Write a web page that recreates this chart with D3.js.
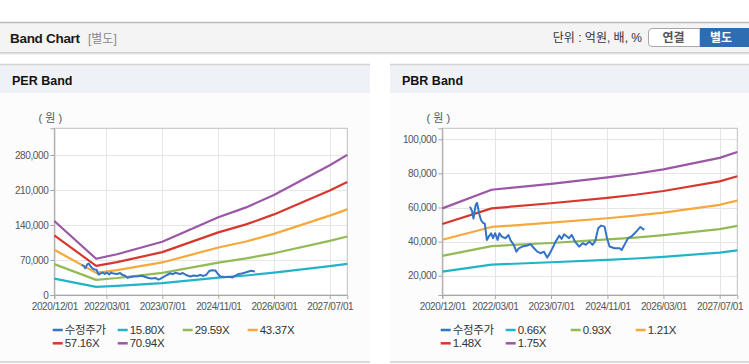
<!DOCTYPE html>
<html><head><meta charset="utf-8">
<script src="https://cdn.jsdelivr.net/npm/d3@7"></script>
<style>
body{margin:0;background:#fff;}
svg{display:block;font-family:"Liberation Sans",Arial,"Noto Sans CJK KR",sans-serif;}
</style>
</head><body>
<svg id="c" width="749" height="364"></svg>
<script>
// ---------- data ----------
const xTickLabels = ["2020/12/01","2022/03/01","2023/07/01","2024/11/01","2026/03/01","2027/07/01"];
const xDomain = ["2020-12-01","2027-12-01"];

const perYTicks = [0,70000,140000,210000,280000];
const pbrYTicks = [20000,40000,60000,80000,100000];

const perBandNames = ["15.80X","29.59X","43.37X","57.16X","70.94X"];
const pbrBandNames = ["0.66X","0.93X","1.21X","1.48X","1.75X"];
const priceName = "수정주가";

const perDates = ["2020-12-01","2021-12-01","2022-06-01","2023-07-01","2024-11-01","2025-07-01","2026-03-01","2027-07-01","2027-12-01"];
const per1580 = [32900,16100,18200,23700,34600,39000,44600,57800,62400];
const per2959 = [61700,30200,34000,44400,64800,73100,83400,108300,116900];
const per4337 = [90400,44200,49900,65100,95000,107100,122300,158700,171300];
const per5716 = [119200,58300,65700,85700,125200,141200,161200,209200,225800];
const per7094 = [147900,72400,81600,106400,155400,175200,200100,259600,280200];

const pbrDates = ["2020-12-01","2022-02-01","2023-07-01","2024-11-01","2025-07-01","2026-03-01","2027-07-01","2027-12-01"];
const pbr066 = [22400,26500,27900,29300,30100,31100,33600,34900];
const pbr093 = [31600,37400,39200,41300,42400,43800,47300,49200];
const pbr121 = [41100,48600,51100,53700,55200,57000,61600,64000];
const pbr148 = [50300,59500,62500,65700,67500,69700,75300,78300];
const pbr175 = [59500,70400,73900,77700,79800,82400,89100,92600];

const priceDates = ["2021-07-28","2021-08-16","2021-08-28","2021-09-16","2021-09-28","2021-10-16","2021-11-01","2021-11-19","2021-12-04","2021-12-22",
 "2022-01-07","2022-01-28","2022-02-13","2022-03-04","2022-03-25","2022-04-10","2022-05-01","2022-06-01","2022-06-28","2022-07-13",
 "2022-08-13","2022-09-04","2022-09-25","2022-10-25","2022-12-07","2023-01-04","2023-02-04","2023-03-04","2023-04-01","2023-05-01",
 "2023-05-28","2023-06-13","2023-07-13","2023-08-10","2023-09-10","2023-10-01","2023-10-22","2023-11-16","2023-12-04","2023-12-28",
 "2024-01-25","2024-03-01","2024-04-01","2024-04-28","2024-05-28","2024-06-25","2024-07-19","2024-08-13","2024-09-07","2024-10-07",
 "2024-10-28","2024-11-19","2025-01-01","2025-02-15","2025-03-04","2025-03-28","2025-04-28","2025-05-25","2025-06-25","2025-07-22",
 "2025-08-13","2025-09-16"];
const priceValues = [60500,58000,53500,61500,62800,56600,52700,51000,50500,41000,
 42900,44900,42000,44900,41000,44900,42900,42000,43900,41000,
 38000,34100,36100,37100,37700,38500,36100,34100,33200,34100,
 30600,32200,36100,40000,43500,41600,44300,43000,42000,43900,
 40000,37100,39100,38100,40000,38100,40500,47900,49400,48800,
 42000,37100,36100,36100,35100,38100,42000,42900,44900,46900,
 48600,46900];

const seriesColors = ["#3573c6","#21b4c8","#92bb55","#f7a83a","#d6382d","#9a57a6"];

// ---------- drawing ----------
const svg = d3.select("#c");
const parse = d3.utcParse("%Y-%m-%d");
const tickParse = d3.utcParse("%Y/%m/%d");

// top header bar
svg.append("rect").attr("x",0).attr("y",22).attr("width",749).attr("height",30).attr("fill","#f4f4f4");
svg.append("line").attr("x1",0).attr("x2",749).attr("y1",22.5).attr("y2",22.5).attr("stroke","#b8b8b8").attr("stroke-width",1.3);
[["#cfcfcf",52.5],["#e2e2e2",53.5],["#f0f0f0",54.5]].forEach(([c,y])=>{
  svg.append("line").attr("x1",0).attr("x2",749).attr("y1",y).attr("y2",y).attr("stroke",c);
});
svg.append("text").attr("x",10).attr("y",43).attr("font-size",13.5).attr("font-weight","bold").attr("fill","#1a1a1a").attr("letter-spacing","-0.3px").text("Band Chart");
svg.append("text").attr("x",88).attr("y",43).attr("font-size",12).attr("fill","#8a8a8a").text("[별도]");
svg.append("text").attr("x",642).attr("y",42).attr("font-size",12).attr("text-anchor","end").attr("fill","#333").text("단위 : 억원, 배, %");
svg.append("path").attr("d","M700,28.5 H652 Q648.5,28.5 648.5,32 V43 Q648.5,46.5 652,46.5 H700 Z")
  .attr("fill","#fff").attr("stroke","#a8a8a8");
svg.append("text").attr("x",673.5).attr("y",42).attr("font-size",12).attr("font-weight","bold").attr("text-anchor","middle").attr("fill","#555").text("연결");
svg.append("rect").attr("x",700).attr("y",28).attr("width",52).attr("height",19).attr("fill","#2f6db2");
svg.append("text").attr("x",721).attr("y",42).attr("font-size",12).attr("font-weight","bold").attr("text-anchor","middle").attr("fill","#fff").text("별도");

function drawPanel(cfg){
  const g = svg.append("g");
  g.append("rect").attr("x",cfg.px).attr("y",93).attr("width",cfg.pw).attr("height",268).attr("fill","#fcfcfc");
  g.append("rect").attr("x",cfg.px).attr("y",64).attr("width",cfg.pw).attr("height",29).attr("fill","#eef1f6");
  g.append("line").attr("x1",cfg.px).attr("x2",cfg.px+cfg.pw).attr("y1",64.5).attr("y2",64.5).attr("stroke","#d4d4d4").attr("stroke-width",1.3);
  g.append("line").attr("x1",cfg.px).attr("x2",cfg.px+cfg.pw).attr("y1",362).attr("y2",362).attr("stroke","#dadada").attr("stroke-width",2);
  g.append("text").attr("x",cfg.px+12).attr("y",84.5).attr("font-size",12.5).attr("font-weight","bold").attr("fill","#111").text(cfg.title);

  const x = d3.scaleUtc().domain(xDomain.map(parse)).range([cfg.x0,cfg.x1]);
  const y = d3.scaleLinear().domain(cfg.yDomain).range([295,128.3]);

  g.append("rect").attr("x",cfg.x0).attr("y",128.3).attr("width",cfg.x1-cfg.x0).attr("height",295-128.3).attr("fill","#fff");

  const xt = xTickLabels.map(tickParse);
  g.append("g").selectAll("line").data(cfg.yTicks).join("line")
    .attr("x1",cfg.x0).attr("x2",cfg.x1).attr("y1",d=>Math.round(y(d))+0.5).attr("y2",d=>Math.round(y(d))+0.5)
    .attr("stroke","#e6e6e6");
  g.append("g").selectAll("line").data(xt).join("line")
    .attr("x1",d=>Math.round(x(d))+0.5).attr("x2",d=>Math.round(x(d))+0.5).attr("y1",128.3).attr("y2",295)
    .attr("stroke","#e6e6e6");
  g.append("rect").attr("x",cfg.x0).attr("y",128.3).attr("width",cfg.x1-cfg.x0).attr("height",295-128.3)
    .attr("fill","none").attr("stroke","#c0c0c0");

  const ya = g.append("g").attr("transform",`translate(${cfg.x0},0)`)
    .call(d3.axisLeft(y).tickValues(cfg.yTicks).tickFormat(d3.format(",")).tickSize(4).tickPadding(2));
  const xa = g.append("g").attr("transform","translate(0,295)")
    .call(d3.axisBottom(x).tickValues(xt).tickFormat((d,i)=>xTickLabels[i]).tickSize(4).tickPadding(4));
  [ya,xa].forEach(a=>{
    a.select(".domain").attr("stroke","#a8a8a8");
    a.selectAll(".tick line").attr("stroke","#a8a8a8");
    a.selectAll("text").attr("fill","#555").attr("font-size",10).attr("letter-spacing","-0.4px")
      .attr("font-family","'Liberation Sans',Arial,sans-serif");
  });

  g.append("text").attr("x",cfg.x0-4).attr("y",122).attr("font-size",11).attr("text-anchor","middle").attr("fill","#555").text("( 원 )");

  const dates = cfg.dates.map(parse);
  const line = d3.line().x((d,i)=>x(dates[i])).y(d=>y(d));
  cfg.bands.forEach((vals,k)=>{
    g.append("path").attr("d",line(vals)).attr("fill","none").attr("stroke",seriesColors[k+1])
      .attr("stroke-width",2.2).attr("stroke-linejoin","round");
  });
  const pd = priceDates.map(parse);
  const pline = d3.line().x((d,i)=>x(pd[i])).y(d=>y(d));
  g.append("path").attr("d",pline(priceValues)).attr("fill","none").attr("stroke",seriesColors[0])
    .attr("stroke-width",2).attr("stroke-linejoin","round");

  const names = [priceName].concat(cfg.names);
  names.forEach((n,i)=>{
    const col = i%4, row = Math.floor(i/4);
    const lx = cfg.x0 - 1.6 + col*65, ly = 330 + row*13.3;
    g.append("line").attr("x1",lx).attr("x2",lx+10).attr("y1",ly).attr("y2",ly)
      .attr("stroke",seriesColors[i]).attr("stroke-width",2.5);
    g.append("text").attr("x",lx+12).attr("y",ly+4).attr("font-size",11.5).attr("fill","#333")
      .attr("letter-spacing","-0.3px").text(n);
  });
}

drawPanel({px:0,pw:370,title:"PER Band",x0:54.3,x1:347.3,yDomain:[0,333400],yTicks:perYTicks,
  dates:perDates,bands:[per1580,per2959,per4337,per5716,per7094],names:perBandNames});
drawPanel({px:390,pw:359,title:"PBR Band",x0:442.3,x1:737.3,yDomain:[8700,106450],yTicks:pbrYTicks,
  dates:pbrDates,bands:[pbr066,pbr093,pbr121,pbr148,pbr175],names:pbrBandNames});
</script>
</body></html>
